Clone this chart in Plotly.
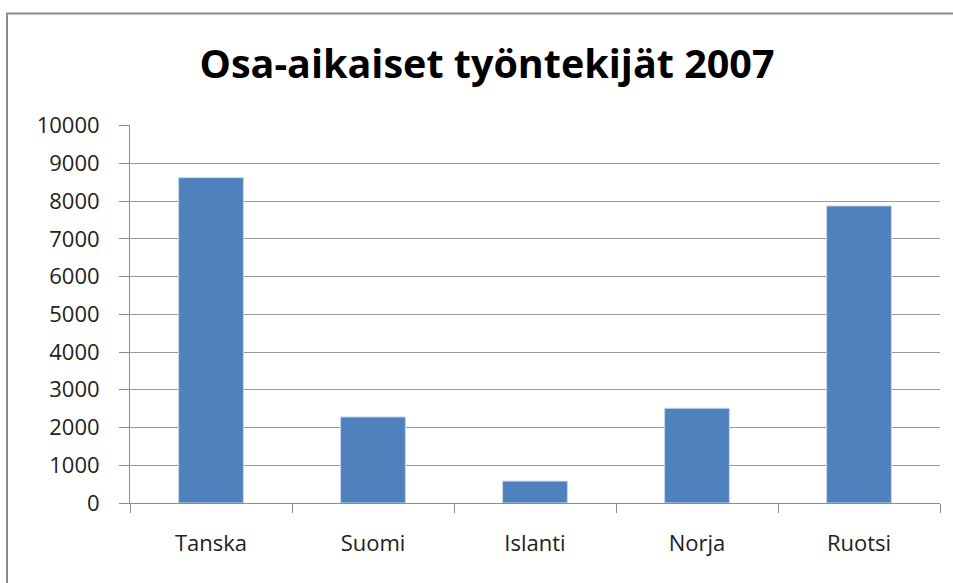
import plotly.graph_objects as go

# Part-time employees by country, 2007
countries = ["Tanska", "Suomi", "Islanti", "Norja", "Ruotsi"]
employees = [8620, 2280, 580, 2510, 7870]
y_ticks = [0, 1000, 2000, 3000, 4000, 5000, 6000, 7000, 8000, 9000, 10000]
y_labels = [str(v) for v in y_ticks]
title_text = "Osa-aikaiset työntekijät 2007"

W, H = 953, 583
L, R, T, B = 130, 13, 125, 80
plot_w = W - L - R
plot_h = H - T - B

fig = go.Figure(
    go.Bar(
        x=countries,
        y=employees,
        width=0.4,
        marker=dict(color="#4f81bd", line=dict(color="#c6d6ec", width=1)),
    )
)

# chart-area frame (top and left edges visible within the window)
frame_x0 = (7 - L) / plot_w
frame_y1 = 1 + (T - 13.5) / plot_h
fig.add_shape(
    type="rect", xref="paper", yref="paper",
    x0=frame_x0, x1=1.2, y0=-0.5, y1=frame_y1,
    line=dict(color="#8c8c8c", width=2), fillcolor="rgba(0,0,0,0)",
    layer="below",
)

fig.update_layout(
    width=W,
    height=H,
    margin=dict(l=L, r=R, t=T, b=B, pad=0),
    paper_bgcolor="white",
    plot_bgcolor="white",
    showlegend=False,
    font=dict(family="Open Sans", color="#222222", size=22),
    title=dict(
        text=title_text,
        font=dict(family="Open Sans", size=39.5, color="black", weight="bold"),
        x=487 / W,
        xanchor="center",
        xref="container",
        y=1 - 64 / H,
        yanchor="middle",
        yref="container",
    ),
    xaxis=dict(
        showgrid=False,
        showline=True,
        linecolor="#8c8c8c",
        linewidth=1,
        ticks="outside",
        tickson="boundaries",
        ticklen=9,
        tickcolor="#8c8c8c",
        ticklabelstandoff=21,
        tickfont=dict(size=22, color="#222222"),
    ),
    yaxis=dict(
        range=[0, 10015],
        tickvals=y_ticks,
        ticktext=y_labels,
        showgrid=True,
        gridcolor="#9a9a9a",
        gridwidth=1.2,
        showline=True,
        linecolor="#8c8c8c",
        linewidth=1,
        ticks="outside",
        ticklen=10,
        tickcolor="#8c8c8c",
        ticklabelstandoff=15,
        tickfont=dict(size=22, color="#222222"),
        zeroline=False,
    ),
)

fig.write_html("out.html")
